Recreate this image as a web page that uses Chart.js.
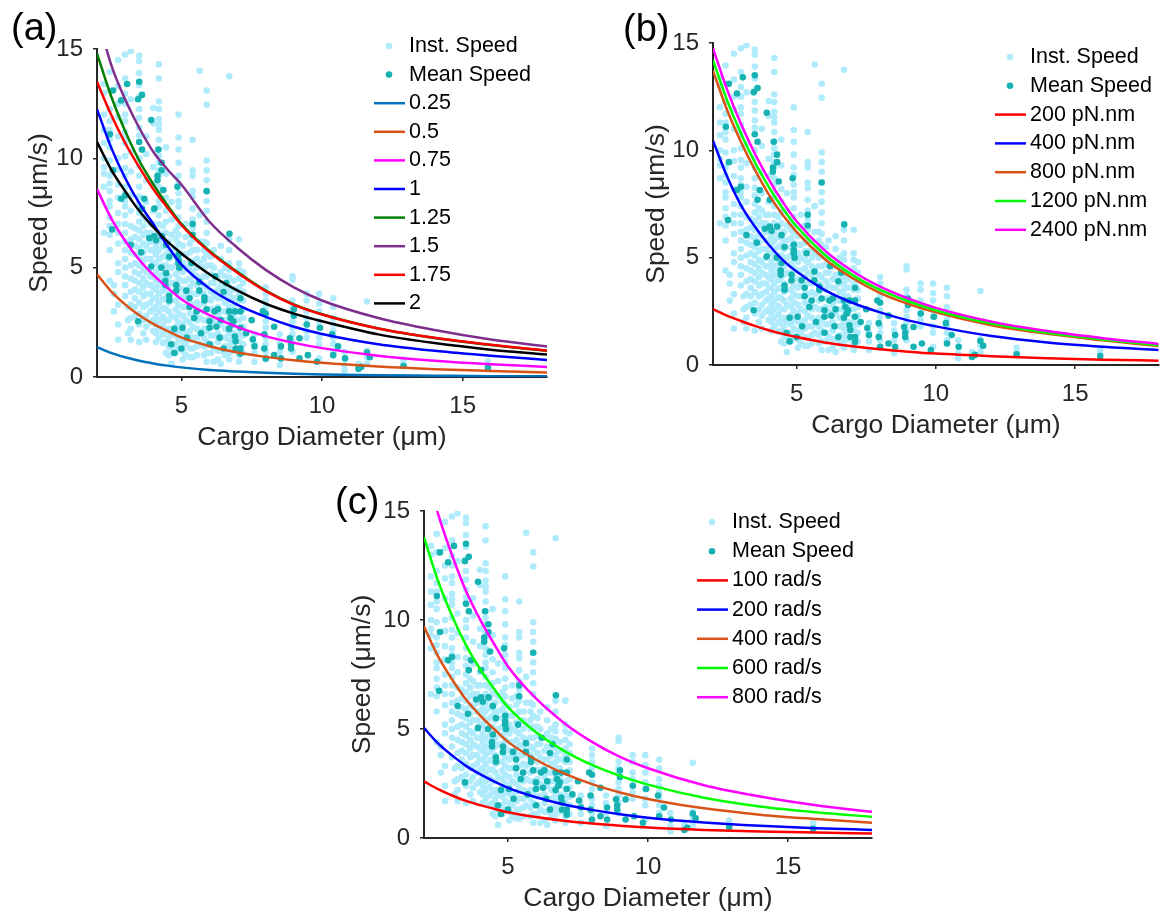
<!DOCTYPE html>
<html>
<head>
<meta charset="utf-8">
<script src="https://cdn.jsdelivr.net/npm/chart.js@4.4.1/dist/chart.umd.min.js"></script>
<style>
  html, body { margin: 0; padding: 0; background: #fff; overflow: hidden; }
  canvas { position: absolute; }
</style>
</head>
<body>
<canvas id="chartA" width="580" height="460" style="left:0px;top:0px"></canvas>
<canvas id="chartB" width="582" height="460" style="left:580px;top:0px"></canvas>
<canvas id="chartC" width="600" height="446" style="left:300px;top:470px"></canvas>
<script>
// ---- data ----
const xTicks = [5, 10, 15];
const yTicks = [0, 5, 10, 15];

// instantaneous speed: each row is [cargo diameter, speed, speed, ...]
const instCols = [
  [2.25, 13.4, 13.0, 12.0, 11.3, 10.7, 10.0, 9.6, 9.3, 8.7, 6.6],
  [2.45, 13.95, 13.1, 12.25, 11.7, 11.3, 10.85, 10.5, 9.9, 9.2, 8.85, 8.5, 8.05, 7.8, 7.3, 6.9, 6.5, 5.8, 4.4],
  [2.6, 4.2, 3.8, 3.0],
  [2.75, 14.5, 13.3, 12.5, 11.9, 11.0, 10.0, 9.5, 8.8, 8.2, 7.5, 7.0, 6.6, 6.1, 5.2, 4.8, 3.3, 2.4, 1.7],
  [3.0, 14.75, 13.65, 12.95, 12.5, 12.0, 11.7, 11.2, 10.95, 10.7, 10.1, 9.55, 9.2, 8.7, 8.4, 8.05, 7.8, 7.4, 7.0, 6.6, 6.2, 5.8, 5.4, 5.0, 4.6, 4.2, 3.7],
  [3.1, 3.2, 2.6, 2.0],
  [3.2, 14.9, 12.7, 10.3, 9.4, 8.3, 7.6, 6.9, 6.3, 5.7, 5.1, 4.5, 3.9, 3.3, 2.7, 2.2, 1.7],
  [3.35, 6.8, 6.4, 6.0, 5.6, 5.2, 4.8, 4.4, 4.0, 3.6, 3.2, 2.8],
  [3.5, 14.7, 14.45, 13.9, 13.35, 12.8, 12.25, 11.85, 11.4, 11.05, 10.0, 9.65, 9.2, 8.7, 8.25, 7.9, 7.5, 7.1, 6.7, 6.3, 5.9, 5.5, 5.1, 4.7, 4.3, 3.9, 3.4, 2.9, 2.4, 1.6],
  [3.65, 7.3, 6.9, 6.5, 6.1, 5.7, 5.3, 4.9, 4.5, 4.1, 3.7, 3.2, 2.6, 2.0],
  [3.75, 11.0, 10.2, 9.0, 8.0, 7.2, 6.6, 6.0, 5.4, 4.8, 4.3, 3.8, 3.3, 2.8, 2.3, 1.7],
  [3.9, 7.0, 6.6, 6.2, 5.8, 5.4, 5.0, 4.6, 4.2, 3.8, 3.4, 3.0, 2.5],
  [4.0, 12.3, 11.6, 9.6, 8.8, 7.6, 7.0, 6.4, 5.8, 5.2, 4.6, 4.1, 3.6, 3.1, 2.6, 2.1],
  [4.1, 6.0, 5.6, 5.2, 4.8, 4.4, 4.0, 3.6, 3.2, 2.8, 2.4, 2.0, 1.6],
  [4.2, 14.3, 13.65, 12.6, 12.25, 11.8, 11.55, 11.3, 10.85, 10.4, 10.1, 9.8, 9.45, 9.2, 8.7, 8.4, 8.05, 7.8, 7.4, 7.0, 6.6, 6.2, 5.8, 5.4, 5.0, 4.6, 4.2, 3.8, 3.4, 3.0, 2.6, 2.2, 1.8],
  [4.35, 6.9, 6.4, 5.95, 5.5, 5.1, 4.7, 4.35, 3.95, 3.55, 3.15, 2.75, 2.35, 1.95, 1.55],
  [4.45, 10.5, 9.3, 8.2, 7.6, 7.1, 6.6, 6.1, 5.6, 5.1, 4.6, 4.1, 3.6, 3.1, 2.6, 2.1, 1.6, 1.1],
  [4.55, 6.2, 5.8, 5.4, 5.0, 4.6, 4.2, 3.8, 3.4, 3.0, 2.6, 2.2, 1.8, 1.4, 1.0],
  [4.65, 8.0, 7.2, 6.5, 5.8, 5.0, 4.3, 3.5, 2.8, 2.0, 1.3, 0.6],
  [4.8, 6.7, 6.3, 5.9, 5.5, 5.1, 4.7, 4.3, 3.9, 3.5, 3.1, 2.7, 2.3, 1.9, 1.5, 1.1],
  [4.9, 12.0, 10.95, 10.4, 9.8, 9.2, 8.85, 8.4, 8.05, 7.8, 7.3, 6.9, 6.5, 6.1, 5.7, 5.3, 4.9, 4.5, 4.1, 3.7, 3.3, 2.9, 2.5, 2.1, 1.7, 1.3],
  [5.05, 6.0, 5.6, 5.2, 4.8, 4.4, 4.0, 3.6, 3.2, 2.8, 2.4, 2.0, 1.6, 1.2, 0.8],
  [5.15, 7.0, 6.4, 5.6, 5.0, 4.4, 3.8, 3.2, 2.6, 2.0, 1.5, 1.0],
  [5.3, 6.5, 6.1, 5.7, 5.3, 4.9, 4.5, 4.1, 3.7, 3.3, 2.9, 2.5, 2.1, 1.7, 1.3, 0.9],
  [5.4, 10.85, 9.45, 9.2, 8.5, 8.25, 7.7, 7.2, 6.8, 6.3, 5.8, 5.3, 4.8, 4.3, 3.8, 3.3, 2.8, 2.3, 1.8, 1.3, 0.9],
  [5.55, 5.8, 5.4, 5.0, 4.6, 4.2, 3.8, 3.4, 3.0, 2.6, 2.2, 1.8, 1.4, 1.0],
  [5.65, 14.0, 7.4, 6.2, 5.2, 4.5, 3.9, 3.3, 2.7, 2.1, 1.5],
  [5.8, 6.2, 5.8, 5.4, 5.0, 4.6, 4.2, 3.8, 3.4, 3.0, 2.6, 2.2, 1.8, 1.4, 1.0],
  [5.9, 13.1, 12.45, 9.9, 9.45, 9.0, 8.5, 8.05, 7.6, 7.1, 6.6, 6.1, 5.6, 5.1, 4.6, 4.1, 3.6, 3.1, 2.6, 2.1, 1.6, 1.1, 0.7],
  [6.05, 5.5, 5.1, 4.7, 4.3, 3.9, 3.5, 3.1, 2.7, 2.3, 1.9, 1.5, 1.1],
  [6.15, 5.8, 5.0, 4.3, 3.7, 3.1, 2.5, 1.9, 1.3, 0.7],
  [6.3, 4.6, 4.0, 3.6, 3.2, 2.8, 2.4, 2.0, 1.6, 1.2, 0.8],
  [6.4, 6.0, 5.4, 4.8, 4.2, 3.6, 3.0, 2.4, 1.8, 1.2, 0.6],
  [6.55, 5.0, 4.6, 4.2, 3.8, 3.4, 3.0, 2.6, 2.2, 1.8, 1.4, 1.0],
  [6.7, 13.75, 6.3, 5.8, 5.2, 4.9, 4.55, 4.1, 3.8, 3.5, 3.2, 2.9, 2.6, 2.3, 2.0, 1.7, 1.4, 1.1, 0.8],
  [6.85, 4.4, 4.0, 3.6, 3.2, 2.8, 2.4, 2.0, 1.6, 1.2],
  [7.05, 6.3, 5.2, 4.9, 4.5, 4.1, 3.8, 3.5, 3.0, 2.6, 2.25, 1.95, 1.65, 1.3, 1.0, 0.7],
  [7.2, 4.8, 4.3, 3.9, 3.5, 3.1, 2.7, 2.3, 1.9, 1.5, 1.1],
  [7.6, 1.95, 1.5, 1.1, 0.7],
  [8.0, 4.1, 3.8, 3.5, 3.2, 2.55, 2.25, 1.8, 1.5, 1.15, 0.8],
  [8.5, 1.95, 1.6, 1.15, 0.55],
  [8.95, 4.6, 4.45, 3.5, 3.2, 3.0, 2.55, 2.25, 1.95, 1.63, 1.15],
  [9.45, 3.8, 3.5, 3.0, 2.7, 2.4, 2.1, 1.8],
  [9.9, 3.8, 3.35, 3.0, 2.55, 2.25, 1.8, 1.5, 0.85],
  [10.4, 3.6, 3.2, 2.7, 2.4, 2.1, 1.8, 1.5, 1.15],
  [10.8, 1.15, 0.55, 0.3],
  [11.3, 0.45, 0.6],
  [11.6, 3.45, 1.2, 0.9, 0.6],
  [12.9, 0.8, 0.6],
  [15.9, 0.7, 0.55]
];

// mean speed per cargo: [diameter, speed]
const meanSpeed = [
  [2.46,11.1],[2.57,13.1],[2.57,9.45],[2.54,6.75],[2.86,12.65],[2.86,8.15],[3.0,8.3],[3.07,13.4],
  [3.2,6.05],[3.46,12.7],[3.5,13.5],[3.5,10.75],[3.46,2.55],[3.57,5.7],[3.6,12.9],[3.6,10.4],
  [3.6,7.7],[3.68,8.15],[3.86,6.35],[3.93,11.75],[3.93,5.05],[4.04,7.7],[4.04,6.45],[4.1,6.25],
  [4.15,9.2],[4.15,9.0],[4.18,10.4],[4.29,5.0],[4.3,9.8],[4.3,9.45],[4.3,6.45],[4.36,8.55],
  [4.43,4.4],[4.43,4.2],[4.46,6.05],[4.46,4.75],[4.57,5.5],[4.57,3.7],[4.57,3.5],[4.64,1.5],
  [4.75,2.2],[4.75,1.1],[4.82,4.2],[4.82,3.95],[4.86,8.7],[4.9,5.6],[4.9,5.35],[4.9,5.2],
  [4.93,5.0],[5.0,1.3],[5.04,2.25],[5.18,3.95],[5.2,1.8],[5.29,3.6],[5.29,3.2],[5.36,5.2],
  [5.4,7.0],[5.4,6.5],[5.46,2.7],[5.54,3.0],[5.64,4.35],[5.64,3.95],[5.7,2.0],[5.82,3.65],
  [5.82,3.5],[5.9,8.5],[5.9,3.1],[6.0,2.55],[6.0,2.25],[6.0,1.5],[6.18,3.0],[6.2,4.6],
  [6.25,2.3],[6.3,3.1],[6.36,1.8],[6.4,2.6],[6.5,3.9],[6.5,1.3],[6.6,4.3],[6.7,3.0],
  [6.7,2.2],[6.71,6.55],[6.75,2.7],[6.8,2.4],[6.85,2.55],[6.9,3.0],[6.9,1.85],[6.93,1.63],
  [6.93,1.3],[7.1,3.6],[7.1,3.0],[7.1,2.25],[7.1,1.3],[7.1,1.07],[7.3,2.0],[7.5,2.6],
  [7.54,1.72],[7.6,1.4],[7.9,3.0],[7.95,1.95],[7.95,1.3],[8.0,2.9],[8.0,0.85],[8.3,2.3],
  [8.3,1.0],[8.54,1.4],[8.54,0.85],[8.86,1.77],[8.9,1.5],[8.9,1.3],[9.0,3.1],[9.0,2.8],
  [9.2,1.77],[9.2,0.85],[9.46,2.4],[9.5,1.0],[9.82,0.7],[9.93,2.25],[10.36,1.95],[10.4,1.0],
  [10.57,1.4],[10.82,0.85],[11.3,0.37],[11.4,0.47],[11.6,1.12],[11.7,0.9],[12.9,0.5],[15.9,0.42]
];

// model curves, sampled at these diameters
const curveX = [2, 2.5, 3, 3.5, 4, 4.5, 5, 6, 7, 8, 9, 10, 12, 14, 16, 18];

// (a)
const aLabels = ['0.25', '0.5', '0.75', '1', '1.25', '1.5', '1.75', '2'];
const aColors = ['#0072bd', '#d95319', '#ff00ff', '#0000ff', '#008000', '#7e2f8e', '#ff0000', '#000000'];
const aCurves = [
  [1.37, 1.10, 0.90, 0.74, 0.62, 0.52, 0.44, 0.32, 0.25, 0.19, 0.15, 0.12, 0.08, 0.06, 0.04, 0.03],
  [4.7, 3.92, 3.32, 2.82, 2.43, 2.11, 1.81, 1.41, 1.12, 0.92, 0.77, 0.65, 0.48, 0.36, 0.28, 0.21],
  [8.6, 7.27, 6.23, 5.36, 4.67, 4.09, 3.56, 2.83, 2.28, 1.87, 1.56, 1.32, 0.97, 0.74, 0.58, 0.46],
  [12.25, 10.5, 9.1, 7.95, 7.0, 6.0, 5.15, 4.05, 3.3, 2.75, 2.3, 1.97, 1.5, 1.2, 0.97, 0.78],
  [14.8, 12.85, 11.25, 9.9, 8.82, 7.87, 7.0, 5.76, 4.8, 3.95, 3.32, 2.87, 2.22, 1.78, 1.46, 1.19],
  [16.6, 14.3, 12.7, 11.4, 10.3, 9.5, 8.8, 7.1, 5.9, 4.9, 4.1, 3.5, 2.7, 2.15, 1.72, 1.4],
  [13.5, 12.0, 10.7, 9.6, 8.6, 7.75, 6.95, 5.72, 4.76, 3.93, 3.3, 2.86, 2.22, 1.79, 1.47, 1.21],
  [10.75, 9.5, 8.5, 7.6, 6.85, 6.2, 5.65, 4.7, 3.95, 3.35, 2.9, 2.55, 1.95, 1.55, 1.25, 1.03]
];

// (b)
const bLabels = ['200 pN.nm', '400 pN.nm', '800 pN.nm', '1200 pN.nm', '2400 pN.nm'];
const bColors = ['#ff0000', '#0000ff', '#d95319', '#00ff00', '#ff00ff'];
const bCurves = [
  [2.6, 2.3, 2.05, 1.82, 1.62, 1.45, 1.3, 1.05, 0.87, 0.73, 0.62, 0.53, 0.41, 0.32, 0.25, 0.2],
  [10.45, 8.8, 7.45, 6.45, 5.6, 4.9, 4.35, 3.5, 2.9, 2.45, 2.08, 1.8, 1.35, 1.05, 0.85, 0.7],
  [13.7, 11.9, 10.4, 9.1, 7.95, 7.0, 6.2, 4.95, 4.05, 3.35, 2.85, 2.45, 1.85, 1.45, 1.15, 0.88],
  [14.2, 12.35, 10.8, 9.45, 8.3, 7.3, 6.45, 5.15, 4.2, 3.5, 2.98, 2.55, 1.93, 1.5, 1.19, 0.92],
  [14.75, 12.85, 11.25, 9.85, 8.65, 7.6, 6.7, 5.35, 4.38, 3.65, 3.1, 2.66, 2.02, 1.58, 1.25, 0.98]
];

// (c)
const cLabels = ['100 rad/s', '200 rad/s', '400 rad/s', '600 rad/s', '800 rad/s'];
const cColors = ['#ff0000', '#0000ff', '#d95319', '#00ff00', '#ff00ff'];
const cCurves = [
  [2.6, 2.24, 1.95, 1.70, 1.51, 1.34, 1.18, 0.96, 0.79, 0.66, 0.56, 0.48, 0.37, 0.3, 0.25, 0.21],
  [5.05, 4.34, 3.79, 3.31, 2.93, 2.60, 2.30, 1.87, 1.54, 1.29, 1.09, 0.93, 0.71, 0.56, 0.45, 0.37],
  [9.7, 8.34, 7.28, 6.35, 5.63, 5.0, 4.41, 3.59, 2.96, 2.47, 2.09, 1.79, 1.36, 1.07, 0.87, 0.7],
  [13.8, 11.8, 10.2, 8.85, 7.75, 6.85, 6.0, 4.85, 4.0, 3.35, 2.85, 2.45, 1.85, 1.45, 1.18, 0.97],
  [17.3, 14.88, 12.98, 11.33, 10.03, 8.91, 7.87, 6.40, 5.28, 4.41, 3.72, 3.2, 2.42, 1.9, 1.5, 1.2]
];

// ---- drawing ----
const FONT = '"Liberation Sans", Arial, sans-serif';
const AXIS_COLOR = '#262626';
const INST_COLOR = '#b0ebfc';
const MEAN_COLOR = '#17b3b3';
const Y_AXIS_W = 97;
const TICK_SIZE = 24;
const TITLE_SIZE = 26.5;

const instPoints = instCols.flatMap(c => c.slice(1).map(y => ({ x: c[0], y: y })));
const meanPoints = meanSpeed.map(p => ({ x: p[0], y: p[1] }));

// legend (box off, inside the axes) + panel tag
const figLegend = {
  id: 'figLegend',
  afterDatasetsDraw(chart, args, opts) {
    const ctx = chart.ctx;
    ctx.save();
    ctx.font = '21.5px ' + FONT;
    ctx.textBaseline = 'middle';
    ctx.textAlign = 'left';
    chart.data.datasets.forEach((ds, i) => {
      const y = opts.y + i * opts.rowH;
      if (ds.showLine) {
        ctx.strokeStyle = ds.borderColor;
        ctx.lineWidth = 2.5;
        ctx.beginPath();
        ctx.moveTo(opts.x, y);
        ctx.lineTo(opts.x + 31, y);
        ctx.stroke();
      } else {
        ctx.fillStyle = ds.backgroundColor;
        ctx.beginPath();
        ctx.arc(opts.x + 15, y, 3.3, 0, Math.PI * 2);
        ctx.fill();
      }
      ctx.fillStyle = '#000';
      ctx.fillText(ds.label, opts.x + 35, y);
    });
    ctx.font = '38px ' + FONT;
    ctx.textBaseline = 'alphabetic';
    ctx.fillStyle = '#000';
    ctx.fillText(opts.tag, opts.tagX, opts.tagY);
    ctx.restore();
  }
};

function buildPanel(p) {
  const padL = p.area.left - p.box.left - Y_AXIS_W;
  const padT = p.area.top - p.box.top;
  const padR = p.box.left + p.box.w - p.area.right;
  const avail = p.box.top + p.box.h - p.area.bottom;
  const hx = Math.min(80, avail);
  const padB = avail - hx;
  const halfTitle = TITLE_SIZE * 1.2 / 2;

  const datasets = [
    { label: 'Inst. Speed', data: instPoints, backgroundColor: INST_COLOR, borderWidth: 0,
      pointRadius: 3.3, pointHoverRadius: 3.3, order: 100 },
    { label: 'Mean Speed', data: meanPoints, backgroundColor: MEAN_COLOR, borderWidth: 0,
      pointRadius: 3.3, pointHoverRadius: 3.3, order: 99 }
  ];
  p.curves.forEach((vals, i) => {
    datasets.push({
      label: p.labels[i],
      data: curveX.map((x, j) => ({ x: x, y: vals[j] })),
      showLine: true,
      borderColor: p.colors[i],
      backgroundColor: p.colors[i],
      borderWidth: 2.5,
      pointRadius: 0,
      cubicInterpolationMode: 'monotone',
      fill: false,
      order: p.curves.length - i
    });
  });

  const tickFont = { family: FONT, size: TICK_SIZE };
  const titleFont = { family: FONT, size: TITLE_SIZE };
  const grid = { display: true, drawOnChartArea: false, drawTicks: true, tickLength: 4,
                 color: AXIS_COLOR, lineWidth: 1.5 };
  const border = { display: true, color: AXIS_COLOR, width: 2 };

  new Chart(document.getElementById(p.id), {
    type: 'scatter',
    data: { datasets: datasets },
    options: {
      responsive: false,
      animation: false,
      devicePixelRatio: 1,
      layout: { padding: { left: padL, top: padT, right: padR, bottom: padB } },
      plugins: {
        legend: { display: false },
        tooltip: { enabled: false },
        figLegend: {
          x: p.legend.x - p.box.left, y: p.legend.y - p.box.top, rowH: p.legend.rowH,
          tag: p.tag.text, tagX: p.tag.x - p.box.left, tagY: p.tag.y - p.box.top
        }
      },
      scales: {
        x: {
          type: 'linear', min: 2, max: 18,
          afterFit: s => { s.height = hx; },
          afterBuildTicks: s => { s.ticks = xTicks.map(v => ({ value: v })); },
          ticks: { font: tickFont, color: AXIS_COLOR, padding: 11, maxRotation: 0 },
          grid: grid, border: border,
          title: { display: true, text: 'Cargo Diameter (μm)', font: titleFont, color: AXIS_COLOR,
                   padding: { top: 0, bottom: hx - halfTitle - 61 } }
        },
        y: {
          type: 'linear', min: 0, max: 15,
          afterFit: s => { s.width = Y_AXIS_W; },
          afterBuildTicks: s => { s.ticks = yTicks.map(v => ({ value: v })); },
          ticks: { font: tickFont, color: AXIS_COLOR, padding: 10 },
          grid: grid, border: border,
          title: { display: true, text: 'Speed (μm/s)', font: titleFont, color: AXIS_COLOR,
                   padding: { top: p.yTitleX - (p.area.left - Y_AXIS_W) - halfTitle, bottom: 0 } }
        }
      }
    },
    plugins: [figLegend]
  });
}

buildPanel({
  id: 'chartA', box: { left: 0, top: 0, w: 580, h: 460 },
  area: { left: 97, top: 49, right: 547, bottom: 377 },
  yTitleX: 40, legend: { x: 374, y: 46, rowH: 28.6 }, tag: { text: '(a)', x: 11, y: 40 },
  labels: aLabels, colors: aColors, curves: aCurves
});
buildPanel({
  id: 'chartB', box: { left: 580, top: 0, w: 582, h: 460 },
  area: { left: 713, top: 43, right: 1160, bottom: 365 },
  yTitleX: 657, legend: { x: 995, y: 57, rowH: 28.8 }, tag: { text: '(b)', x: 623, y: 41 },
  labels: bLabels, colors: bColors, curves: bCurves
});
buildPanel({
  id: 'chartC', box: { left: 300, top: 470, w: 600, h: 446 },
  area: { left: 424, top: 511, right: 872, bottom: 838 },
  yTitleX: 363, legend: { x: 697, y: 522, rowH: 29.2 }, tag: { text: '(c)', x: 335, y: 514 },
  labels: cLabels, colors: cColors, curves: cCurves
});
</script>
</body>
</html>
